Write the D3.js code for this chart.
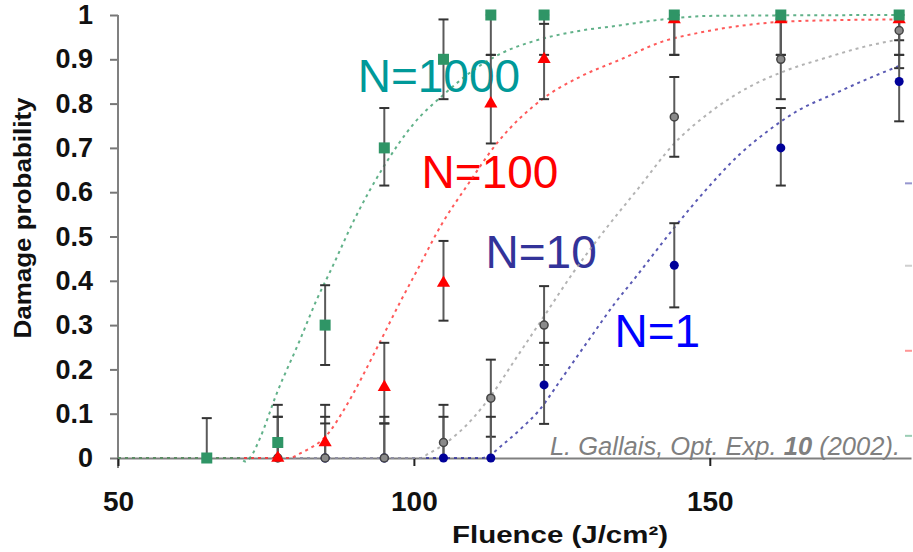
<!DOCTYPE html>
<html>
<head>
<meta charset="utf-8">
<script src="https://cdn.jsdelivr.net/npm/d3@7.9.0/dist/d3.min.js"></script>
<style>
  body { margin: 0; background: #fff; }
  svg { display: block; font-family: "Liberation Sans", Arial, sans-serif; }
</style>
</head>
<body>
<script>
// measured fluences (J/cm2)
const fluence = [65, 77, 85, 95, 105, 113, 122, 144, 162, 182];

// damage probability per shot number N
const pN1000 = [0, 0.035, 0.30, 0.70, 0.90, 1, 1, 1, 1, 1];
const pN100 = [null, 0, 0.035, 0.16, 0.395, 0.80, 0.90, 0.99, 0.99, 0.99];
const pN10 = [null, 0, 0, 0, 0.035, 0.135, 0.30, 0.77, 0.90, 0.965];
const pN1 = [null, null, 0, 0, 0, 0, 0.165, 0.435, 0.70, 0.85];

// error bars [low, high]
const errN1000 = [[0, 0.09], [0, 0.12], [0.21, 0.39], [0.615, 0.79], [0.81, 0.99], [0.91, 1], [0.91, 1], [0.91, 1], [0.91, 1], [0.943, 1]];
const errN100 = [null, [0, 0.093], [0, 0.12], [0.078, 0.26], [0.31, 0.49], [0.71, 0.91], [0.81, 0.98], [0.91, 1], [0.91, 1], [0.91, 1]];
const errN10 = [null, [0, 0.093], [0, 0.093], [0, 0.093], [0, 0.12], [0.048, 0.222], [0.21, 0.388], [0.68, 0.86], [0.81, 0.99], [0.88, 1]];
const errN1 = [null, null, [0, 0.078], [0, 0.078], [0, 0.093], [0, 0.093], [0.077, 0.26], [0.34, 0.53], [0.615, 0.79], [0.76, 0.91]];

// fitted curves as [fluence, probability]
const fitN1000 = [[50, 0], [70.5, 0], [71.5, -0.008], [72.5, 0.004], [74, 0.045], [76.8, 0.145], [80.7, 0.265], [83.5, 0.355], [86, 0.425], [90, 0.54], [95, 0.66], [100, 0.755], [105, 0.82], [110, 0.875], [115, 0.915], [120, 0.94], [127, 0.962], [135, 0.977], [142, 0.99], [150, 0.998], [182, 1]];
const fitN100 = [[50, 0], [79, 0], [80.7, 0.01], [85.8, 0.06], [88, 0.105], [94.2, 0.26], [97.6, 0.35], [100.4, 0.42], [104.8, 0.53], [109, 0.615], [114, 0.71], [121.7, 0.81], [128, 0.86], [135, 0.9], [142, 0.94], [148.2, 0.96], [156.6, 0.978], [164, 0.986], [182, 0.99]];
const fitN10 = [[50, 0], [101, 0], [102.5, 0.01], [105, 0.03], [110, 0.09], [113, 0.14], [117, 0.22], [122, 0.32], [127, 0.42], [132, 0.51], [138, 0.61], [144, 0.71], [150, 0.78], [157, 0.84], [162, 0.87], [170, 0.905], [176, 0.928], [182, 0.945]];
const fitN1 = [[50, 0], [111.5, 0], [112.5, 0.004], [115, 0.03], [118, 0.065], [121, 0.105], [125, 0.18], [130, 0.275], [134, 0.35], [137, 0.40], [144, 0.52], [150, 0.615], [155, 0.685], [160, 0.74], [165, 0.785], [171, 0.822], [176, 0.852], [182, 0.885]];

const xTicks = [50, 100, 150];
const yTicks = [0, 0.1, 0.2, 0.3, 0.4, 0.5, 0.6, 0.7, 0.8, 0.9, 1];

const series = [
  { name: "N=1000", p: pN1000, err: errN1000, fit: fitN1000, color: "#2f9566", curve: "#3a9d6c", text: "#009999", label: [90.5, 0.826], shape: "square", legend: 0.05 },
  { name: "N=100", p: pN100, err: errN100, fit: fitN100, color: "#ff0000", curve: "#ff3030", text: "#ff0000", label: [101.3, 0.609], shape: "triangle", legend: 0.242 },
  { name: "N=10", p: pN10, err: errN10, fit: fitN10, color: "#7a7a7a", curve: "#a0a0a0", text: "#333399", label: [112.1, 0.428], shape: "circle", legend: 0.434 },
  { name: "N=1", p: pN1, err: errN1, fit: fitN1, color: "#000099", curve: "#3030a0", text: "#0000ff", label: [133.9, 0.251], shape: "dot", legend: 0.62 },
];

const width = 913, height = 552;
const x = d3.scaleLinear().domain([50, 184]).range([118, 911]);
const y = d3.scaleLinear().domain([0, 1]).range([458, 15]);

const svg = d3.select("body").append("svg")
  .attr("width", width)
  .attr("height", height);

// series labels
series.forEach((s) => {
  svg.append("text")
    .attr("x", x(s.label[0]))
    .attr("y", y(s.label[1]))
    .attr("fill", s.text)
    .attr("font-size", 46)
    .text(s.name);
});

// axes
const yAxis = svg.append("g")
  .attr("transform", `translate(${x(50)},0)`)
  .call(d3.axisLeft(y).tickValues(yTicks).tickSize(8).tickSizeOuter(0).tickPadding(17)
    .tickFormat((d) => (d === 0 || d === 1 ? String(d) : d.toFixed(1))));
yAxis.select(".domain").remove();
yAxis.selectAll(".tick line").attr("stroke", "#777").attr("stroke-width", 2);
yAxis.selectAll(".tick text")
  .attr("fill", "#111")
  .attr("font-size", 27)
  .attr("font-weight", "bold")
  .attr("font-family", "Liberation Sans, Arial, sans-serif");

svg.append("line")
  .attr("x1", x(50)).attr("x2", x(50))
  .attr("y1", y(1)).attr("y2", y(0) + 10)
  .attr("stroke", "#808080").attr("stroke-width", 2);

const xAxis = svg.append("g")
  .attr("transform", `translate(0,${y(0)})`)
  .call(d3.axisBottom(x).tickValues(xTicks).tickSize(8).tickSizeOuter(0).tickPadding(25));
xAxis.select(".domain").attr("stroke", "#808080").attr("stroke-width", 2);
xAxis.selectAll(".tick line").attr("stroke", "#222").attr("stroke-width", 2);
xAxis.selectAll(".tick text")
  .attr("fill", "#111")
  .attr("font-size", 28)
  .attr("font-weight", "bold")
  .attr("font-family", "Liberation Sans, Arial, sans-serif");

svg.append("text")
  .attr("x", 560).attr("y", 543)
  .attr("text-anchor", "middle")
  .attr("font-size", 24).attr("font-weight", "bold")
  .attr("fill", "#111")
  .attr("textLength", 216).attr("lengthAdjust", "spacingAndGlyphs")
  .text("Fluence (J/cm²)");

svg.append("text")
  .attr("transform", "translate(31,218) rotate(-90)")
  .attr("text-anchor", "middle")
  .attr("font-size", 24).attr("font-weight", "bold")
  .attr("fill", "#111")
  .attr("textLength", 241).attr("lengthAdjust", "spacingAndGlyphs")
  .text("Damage probability");

// citation
const cite = svg.append("text")
  .attr("x", 900).attr("y", 455)
  .attr("text-anchor", "end")
  .attr("font-size", 25.5).attr("font-style", "italic")
  .attr("fill", "#7f7f7f");
cite.append("tspan").text("L. Gallais, Opt. Exp. ");
cite.append("tspan").attr("font-weight", "bold").text("10");
cite.append("tspan").text(" (2002).");

// fitted curves
const line = d3.line()
  .x((d) => x(d[0]))
  .y((d) => y(d[1]))
  .curve(d3.curveMonotoneX);

series.slice().reverse().forEach((s) => {
  svg.append("path")
    .attr("d", line(s.fit))
    .attr("fill", "none")
    .attr("stroke", s.curve)
    .attr("stroke-width", 2)
    .attr("stroke-dasharray", "3,4")
    .attr("opacity", 0.8);
});

// cut-off legend samples at the right edge
series.forEach((s) => {
  svg.append("line")
    .attr("x1", 905).attr("x2", 912)
    .attr("y1", y(s.legend)).attr("y2", y(s.legend))
    .attr("stroke", s.curve).attr("stroke-width", 2)
    .attr("opacity", 0.5);
});

// error bars
series.forEach((s) => {
  s.err.forEach((e, i) => {
    if (!e) return;
    const cx = x(fluence[i]);
    svg.append("line")
      .attr("x1", cx).attr("x2", cx)
      .attr("y1", y(e[0])).attr("y2", y(e[1]))
      .attr("stroke", "#5a5a5a").attr("stroke-width", 2);
    [e[0], e[1]].forEach((v) => {
      if (v === 0) return;
      svg.append("line")
        .attr("x1", cx - 5).attr("x2", cx + 5)
        .attr("y1", y(v)).attr("y2", y(v))
        .attr("stroke", "#333").attr("stroke-width", 2);
    });
  });
});

// markers, drawn from N=1 up to N=1000 so green sits on top
series.slice().reverse().forEach((s) => {
  const pts = fluence.map((f, i) => [f, s.p[i]]).filter((d) => d[1] !== null);
  const g = svg.append("g").attr("fill", s.color);
  pts.forEach((d) => {
    const cx = x(d[0]), cy = y(d[1]);
    if (s.shape === "square") {
      g.append("rect").attr("x", cx - 5.5).attr("y", cy - 5.5).attr("width", 11).attr("height", 11);
    } else if (s.shape === "triangle") {
      g.append("path").attr("d", d3.symbol(d3.symbolTriangle, 75)())
        .attr("transform", `translate(${cx},${cy})`);
    } else if (s.shape === "circle") {
      g.append("circle").attr("cx", cx).attr("cy", cy).attr("r", 4)
        .attr("fill", "#8a8a8a").attr("stroke", "#444").attr("stroke-width", 1.5);
    } else {
      g.append("circle").attr("cx", cx).attr("cy", cy).attr("r", 4.5);
    }
  });
});
</script>
</body>
</html>
